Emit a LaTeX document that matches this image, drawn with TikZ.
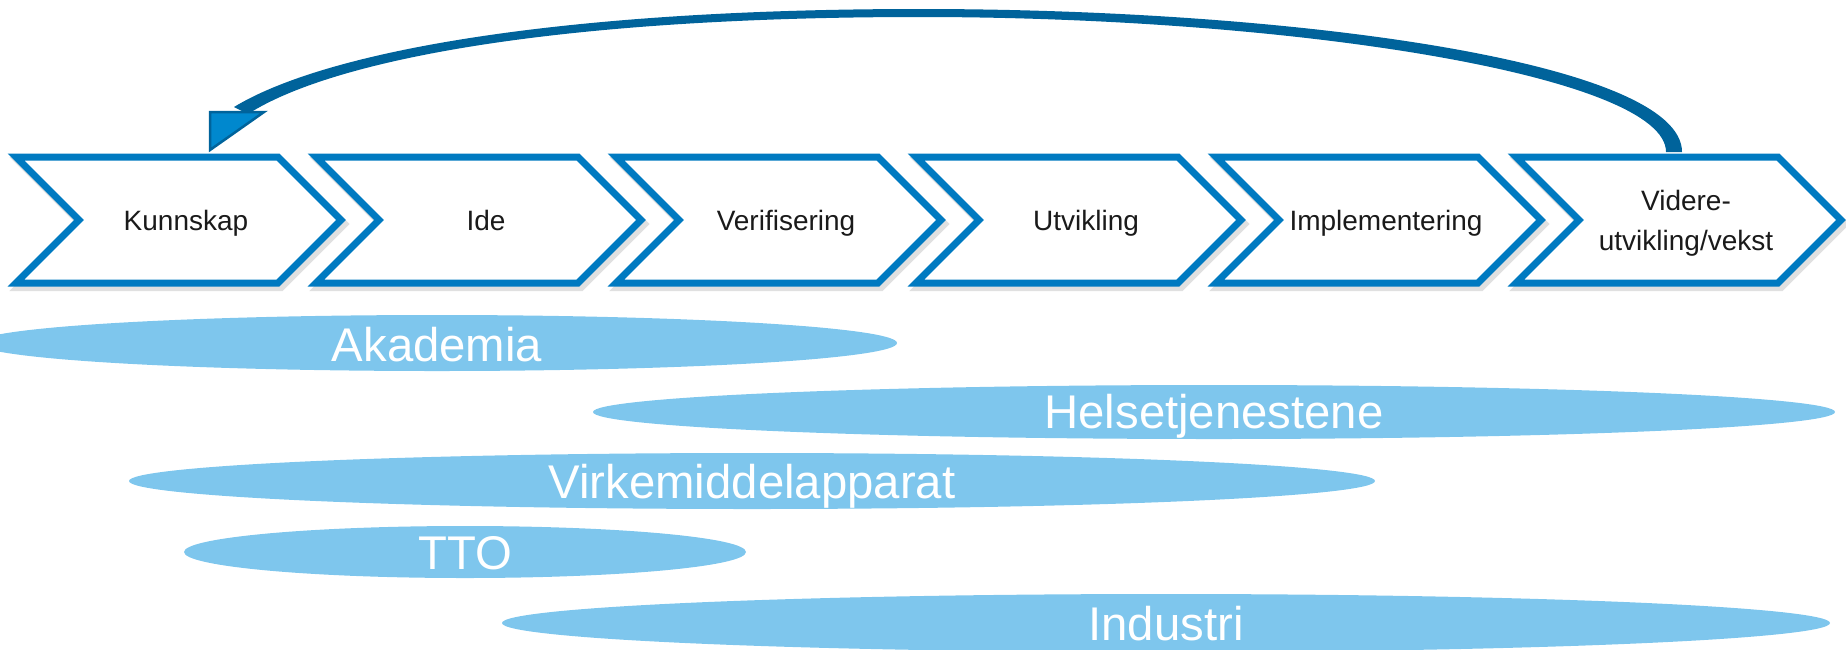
\documentclass[tikz,border=0pt]{standalone}
\usepackage{fontspec}
\setmainfont{Liberation Sans}
\definecolor{chevblue}{RGB}{0,122,193}
\definecolor{arrowblue}{RGB}{0,99,155}
\definecolor{headblue}{RGB}{0,136,206}
\definecolor{ellblue}{RGB}{126,198,237}
\definecolor{txtgray}{RGB}{26,26,26}
\tikzset{
  chev/.style={draw=chevblue, line width=7pt, fill=white, line join=miter},
  chevshadow/.style={draw=black, opacity=0.12, line width=8pt, line join=miter},
  steplabel/.style={font=\fontsize{28}{40}\selectfont, text=txtgray, align=center, inner sep=0pt},
  bandfill/.style={fill=ellblue},
  bandlabel/.style={font=\fontsize{47.3}{56}\selectfont, text=white, anchor=base, inner sep=0pt},
  loopband/.style={fill=arrowblue},
  loophead/.style={fill=headblue, draw=arrowblue, line width=2.5pt, line join=miter}
}
\begin{document}
\begin{tikzpicture}[x=1pt,y=-1pt]
\useasboundingbox (0,0) rectangle (1846,649);
% chevrons
\foreach \i in {0,...,5}{
  \pgfmathsetmacro\xl{16+300*\i}
  \pgfmathsetmacro\xs{19+300*\i}
  \draw[chevshadow] (\xs,161) -- ++(262,0) -- ++(63,63) -- ++(-63,63) -- ++(-262,0) -- ++(63,-63) -- cycle;
  \draw[chev] (\xl,157) -- ++(262,0) -- ++(63,63) -- ++(-63,63) -- ++(-262,0) -- ++(63,-63) -- cycle;
}
\node[steplabel, anchor=base] (s1) at (186,230) {Kunnskap};
\node[steplabel, anchor=base] (s2) at (486,230) {Ide};
\node[steplabel, anchor=base] (s3) at (786,230) {Verifisering};
\node[steplabel, anchor=base] (s4) at (1086,230) {Utvikling};
\node[steplabel, anchor=base] (s5) at (1386,230) {Implementering};
\node[steplabel, anchor=center] (s6) at (1686,223) {Videre-\\utvikling/vekst};
% loop arrow
\coordinate (tail) at (1674,152);
\coordinate (tip) at (210,150);
\fill[loopband] (1682,152) .. controls (1682,63) and (1300,9) .. (920,9)
  .. controls (560,9) and (326,51) .. (234,107)
  -- (248,114) .. controls (334,59) and (560,17) .. (920,17)
  .. controls (1300,17) and (1666,77) .. (1666,152) -- cycle;
\draw[loophead] (tip) -- (210,112) -- (264,112) -- cycle;
% actor bands
\fill[bandfill] (437,343) ellipse [x radius=460, y radius=28];
\fill[bandfill] (1214,412) ellipse [x radius=621, y radius=27];
\fill[bandfill] (752,481) ellipse [x radius=623, y radius=28];
\fill[bandfill] (465,552) ellipse [x radius=281, y radius=26];
\fill[bandfill] (1166,623) ellipse [x radius=664, y radius=29];
\node[bandlabel] (akademia) at (437,361) {Akademia};
\node[bandlabel] (helse) at (1214,428) {Helsetjenestene};
\node[bandlabel] (virke) at (752,498) {Virkemiddelapparat};
\node[bandlabel] (tto) at (465,569) {TTO};
\node[bandlabel] (industri) at (1166,640) {Industri};
\end{tikzpicture}
\end{document}
